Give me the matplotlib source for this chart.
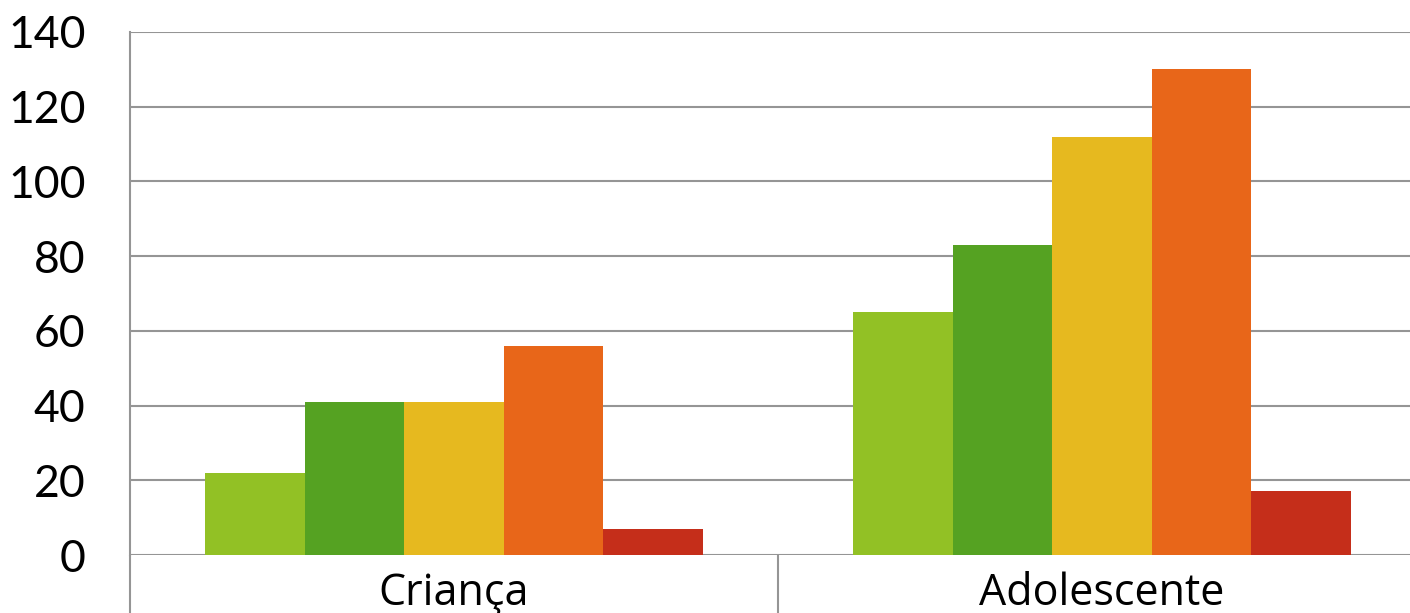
import numpy as np
from matplotlib import pyplot as plt
from matplotlib.ticker import FixedLocator

#--- DATA ---------------------------------------------------------------------+

categories = ['Criança', 'Adolescente']
series_1 = [22, 65]
series_2 = [41, 83]
series_3 = [41, 112]
series_4 = [56, 130]
series_5 = [7, 17]
colors = ['#92c125', '#55a222', '#e6b91f', '#e86619', '#c52e1a']
y_ticks = [0, 20, 40, 60, 80, 100, 120, 140]

#--- PLOT ---------------------------------------------------------------------+

plt.rcParams['font.family'] = ['Lato', 'DejaVu Sans']

W, H = 1410, 613
fig = plt.figure(figsize=(W / 100, H / 100), dpi=100)
# axes run past the right edge: the picture is cropped there
ax = fig.add_axes([130 / W, 58 / H, 1296 / W, 523 / H])

series = [series_1, series_2, series_3, series_4, series_5]
x = np.arange(len(categories))
bw = 0.1537
for i, (vals, c) in enumerate(zip(series, colors)):
    ax.bar(x + (i - 2) * bw, vals, width=bw, color=c, zorder=3)

ax.set_xlim(-0.5, 1.5)
ax.set_ylim(0, 140)
ax.set_yticks(y_ticks)
ax.set_xticks(x)
ax.set_xticklabels(categories, family=['Open Sans', 'DejaVu Sans'])
ax.xaxis.set_minor_locator(FixedLocator([-0.5, 0.5, 1.5]))

ax.yaxis.grid(True, color='#959595', linewidth=1.5, zorder=0)
ax.set_axisbelow(True)
for s in ['top', 'right', 'bottom']:
    ax.spines[s].set_visible(False)
ax.spines['left'].set_color('#959595')
ax.spines['left'].set_linewidth(1.5)

ax.tick_params(axis='y', length=0, pad=32, labelsize=32)
ax.tick_params(axis='x', which='major', length=0, pad=12, labelsize=31)
ax.tick_params(axis='x', which='minor', length=45, width=1.5, color='#959595',
               direction='out')

plt.savefig('out.png', dpi=100)
